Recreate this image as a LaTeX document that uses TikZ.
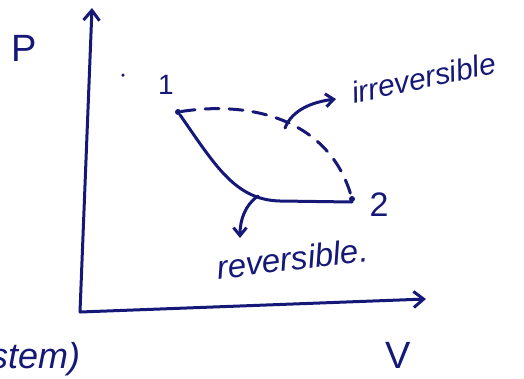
\documentclass[tikz,border=0pt]{standalone}
\usepackage{fontspec}
\setmainfont{Liberation Sans}
\usetikzlibrary{arrows.meta}
\definecolor{ink}{RGB}{22,24,120}
\tikzset{
  pen/.style={draw=ink, line width=3pt, line cap=round, line join=round},
  axisarrow/.style={pen, -{Straight Barb[length=10pt,width=16pt,line width=3pt]}},
  labelarrow/.style={pen, -{Straight Barb[length=8pt,width=13pt,line width=3pt]}},
  lbl/.style={text=ink, inner sep=0pt},
  pt/.style={circle, fill=ink, minimum size=6pt, inner sep=0pt},
}
\begin{document}
\begin{tikzpicture}[x=1pt,y=-1pt]
\useasboundingbox (0,0) rectangle (524,378);
% axes
\coordinate (O) at (80,312);
\coordinate (ytop) at (92,8);
\coordinate (xend) at (426,299);
\draw[axisarrow] (O) -- (ytop);
\draw[axisarrow] (O) -- (xend);
% axis labels
\node[lbl, font=\fontsize{38}{40}\selectfont] (P) at (24,48) {P};
\node[lbl, font=\fontsize{38}{40}\selectfont] (V) at (398,355) {V};
\node[lbl, font=\fontsize{36}{38}\selectfont\itshape, anchor=base west] (stem) at (-10,368) {stem)};
% stray dot
\node[circle, fill=ink, minimum size=3.5pt, inner sep=0pt] (dot) at (123,75) {};
% states
\node[pt] (s1) at (178,112) {};
\node[pt] (s2) at (352,199) {};
\node[lbl, font=\fontsize{28}{30}\selectfont] (n1) at (166,85) {1};
\node[lbl, font=\fontsize{34}{36}\selectfont] (n2) at (379,205) {2};
% reversible path (solid)
\draw[pen] (s1) .. controls (215,165) and (235,200) .. (280,201) -- (352,202);
% irreversible path (dashed)
\draw[pen, dash pattern=on 14pt off 10pt] (s1) .. controls (255,100) and (330,122) .. (s2);
% pointer arrows
\coordinate (a1) at (285,128);
\coordinate (a1e) at (336,99);
\draw[labelarrow] (a1) .. controls (292,110) and (312,102) .. (a1e);
\coordinate (a2) at (258,196);
\coordinate (a2e) at (240,238);
\draw[labelarrow] (a2) .. controls (245,205) and (240,220) .. (a2e);
% labels
\node[lbl, font=\fontsize{30}{32}\selectfont\itshape, rotate=12, anchor=south west] (irr) at (354,104) {irreversible};
\node[lbl, font=\fontsize{33}{35}\selectfont\itshape, rotate=7, anchor=south west] (rev) at (218,280) {reversible.};
\end{tikzpicture}
\end{document}
